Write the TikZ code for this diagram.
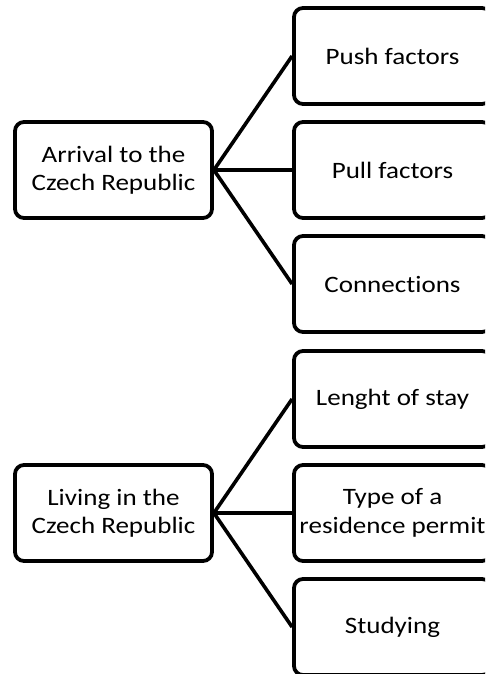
\documentclass[tikz,border=0pt]{standalone}
\usepackage{fontspec}
\setmainfont{Carlito}[FakeStretch=1.15, Ligatures={NoCommon}]
\begin{document}
\begin{tikzpicture}[x=1pt,y=-1pt,
  box/.style={draw=black, line width=3.8pt, rounded corners=9pt, fill=white,
    minimum width=197pt, minimum height=96pt, inner sep=2pt, align=center,
    font=\fontsize{23.5}{28.5}\selectfont},
  link/.style={draw=black, line width=3.6pt}]
  \useasboundingbox (0,0) rectangle (485,674);
  \clip (0,0) rectangle (485,674);

  % first group: arrival
  \node[box] (arr) at (113.5,170) {Arrival to the\\Czech Republic};
  \node[box] (push) at (392.5,56) {Push factors};
  \node[box] (pull) at (392.5,170) {Pull factors};
  \node[box] (conn) at (392.5,284) {Connections};

  % second group: living
  \node[box] (liv) at (113.5,513) {Living in the\\Czech Republic};
  \node[box] (len) at (392.5,399) {Lenght of stay};
  \node[box] (typ) at (392.5,513) {Type of a\\residence permit};
  \node[box] (stu) at (392.5,627) {Studying};

  \foreach \t in {push,pull,conn} \draw[link] (arr.east) -- (\t.west);
  \foreach \t in {len,typ,stu} \draw[link] (liv.east) -- (\t.west);
\end{tikzpicture}
\end{document}
